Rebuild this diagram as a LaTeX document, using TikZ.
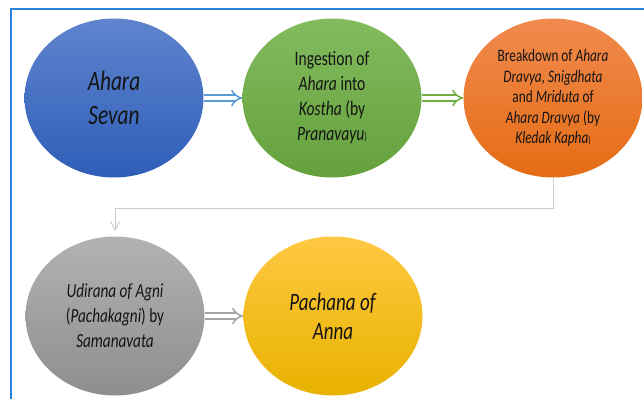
\documentclass[tikz,border=0pt]{standalone}
\usepackage{fontspec}
\setmainfont{Carlito}[FakeStretch=0.76]
\usepackage{tikz}
\usetikzlibrary{arrows.meta,shapes.geometric}

\definecolor{framecol}{RGB}{40,130,215}
\definecolor{txtcol}{RGB}{20,20,20}

\begin{document}
\begin{tikzpicture}[
  x=1pt, y=1pt, >=Stealth,
  stage/.style={ellipse, minimum width=179pt, minimum height=159pt, inner sep=0pt,
                align=center, text=txtcol},
  flow/.style={double=white, double distance=4.2pt, line width=1.5pt,
               -{Implies[length=7pt,width=15pt]}},
  link/.style={draw=gray!40, line width=1pt, -{Straight Barb[length=9pt,width=9pt]}},
]
\useasboundingbox (0,0) rectangle (644,-399);
\draw[framecol, line width=1.4pt] (11,-399) -- (11,-9) -- (644,-9);

\node[stage, top color={rgb,255:red,96;green,132;blue,206}, bottom color={rgb,255:red,46;green,94;blue,184},
      font=\fontsize{28}{34}\selectfont] (ahara) at (114,-98) {\textit{Ahara}\\\textit{Sevan}};
\node[stage, top color={rgb,255:red,131;green,187;blue,95}, bottom color={rgb,255:red,100;green,161;blue,60},
      font=\fontsize{20.5}{25}\selectfont] (ingest) at (332,-98)
      {Ingestion of\\\textit{Ahara} into\\\textit{Kostha} (by\\\textit{Pranavayu}{\fontsize{11}{11}\selectfont)}};
\node[stage, top color={rgb,255:red,241;green,138;blue,78}, bottom color={rgb,255:red,229;green,108;blue,20},
      font=\fontsize{17.5}{20.5}\selectfont] (breakdown) at (553,-98)
      {Breakdown of \textit{Ahara}\\\textit{Dravya, Snigdhata}\\and \textit{Mriduta} of\\\textit{Ahara Dravya} (by\\\textit{Kledak Kapha}{\fontsize{10}{10}\selectfont)}};
\node[stage, top color={rgb,255:red,178;green,178;blue,178}, bottom color={rgb,255:red,142;green,142;blue,142},
      font=\fontsize{20}{25}\selectfont] (udirana) at (115,-316)
      {\textit{Udirana of Agni}\\(\textit{Pachakagni}) by\\\textit{Samanavata}};
\node[stage, top color={rgb,255:red,255;green,200;blue,66}, bottom color={rgb,255:red,232;green,178;blue,0},
      font=\fontsize{25}{29}\selectfont] (pachana) at (333,-316) {\textit{Pachana of}\\\textit{Anna}};

\draw[flow, draw={rgb,255:red,91;green,155;blue,213}] (ahara) -- (ingest);
\draw[flow, draw={rgb,255:red,112;green,173;blue,71}] (ingest) -- (breakdown);
\draw[flow, draw={rgb,255:red,165;green,165;blue,165}] (udirana) -- (pachana);

\draw[link, shorten >=5pt] (breakdown.south) -- ++(0,-31) -| (udirana.north);
\end{tikzpicture}
\end{document}
